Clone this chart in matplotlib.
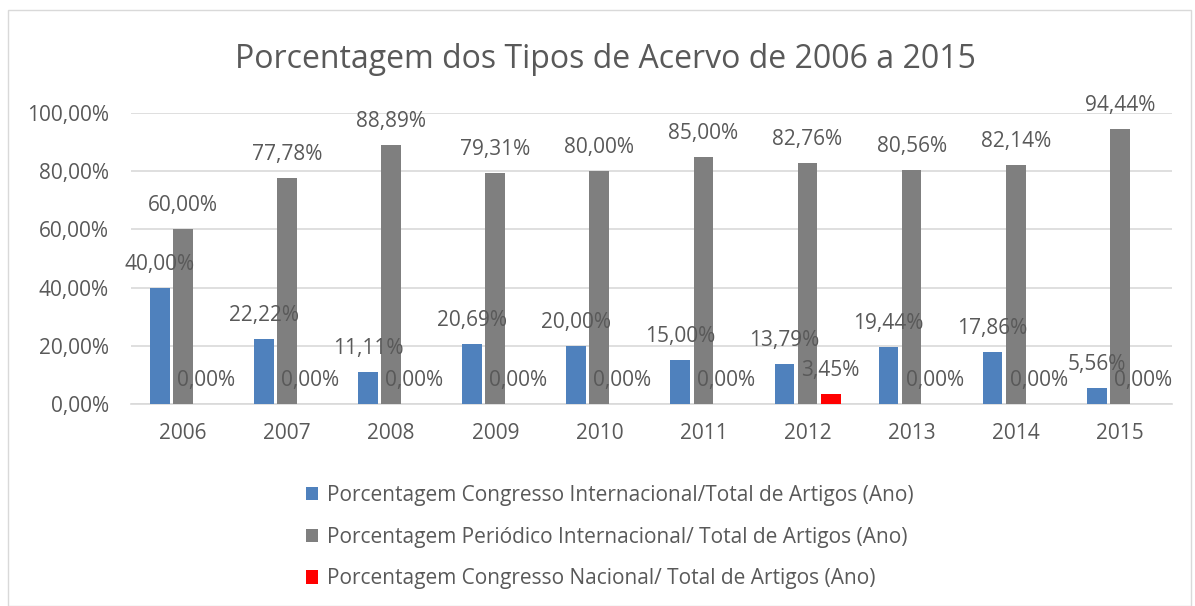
import numpy as np
import matplotlib
matplotlib.use('Agg')
import matplotlib.pyplot as plt
from matplotlib.patches import Rectangle

plt.rcParams['font.family'] = ['Open Sans', 'DejaVu Sans']

# dados
anos = ['2006', '2007', '2008', '2009', '2010', '2011', '2012', '2013', '2014', '2015']
congresso_int = [40.00, 22.22, 11.11, 20.69, 20.00, 15.00, 13.79, 19.44, 17.86, 5.56]
periodico_int = [60.00, 77.78, 88.89, 79.31, 80.00, 85.00, 82.76, 80.56, 82.14, 94.44]
congresso_nac = [0.00, 0.00, 0.00, 0.00, 0.00, 0.00, 3.45, 0.00, 0.00, 0.00]
series = [
    ('Porcentagem Congresso Internacional/Total de Artigos (Ano)', congresso_int, '#4F81BD'),
    ('Porcentagem Periódico Internacional/ Total de Artigos (Ano)', periodico_int, '#7F7F7F'),
    ('Porcentagem Congresso Nacional/ Total de Artigos (Ano)', congresso_nac, '#FF0000'),
]
yticks = [0, 20, 40, 60, 80, 100]

txt = '#595959'
fig = plt.figure(figsize=(11.95, 6.06), dpi=100)
fig.patches.append(Rectangle((0.007, 0.0), 0.99, 0.983, transform=fig.transFigure,
                             fill=False, edgecolor='#D9D9D9', linewidth=1))
ax = fig.add_axes([0.1096, 0.3333, 0.871, 0.480])

x = np.arange(len(anos))
largura = 0.19
offsets = [-0.222, 0.0, 0.222]

handles = []
for (nome, vals, cor), off in zip(series, offsets):
    b = ax.bar(x + off, vals, width=largura, color=cor, label=nome, zorder=3)
    handles.append(b)
    for xi, v in zip(x + off, vals):
        ax.annotate(f'{v:.2f}%'.replace('.', ','), (xi, v), xytext=(0, 17),
                    textcoords='offset points', ha='center', va='center',
                    fontsize=15, color=txt, zorder=4, annotation_clip=False)

ax.set_xlim(-0.5, len(anos) - 0.5)
ax.set_ylim(0, 100)
ax.set_yticks(yticks)
ax.set_yticklabels([f'{t:.2f}%'.replace('.', ',') for t in yticks], fontsize=15, color=txt)
ax.set_xticks(x)
ax.set_xticklabels(anos, fontsize=15, color=txt)
ax.tick_params(axis='y', length=0, pad=16)
ax.tick_params(axis='x', length=0, pad=14)
ax.grid(axis='y', color='#D9D9D9', linewidth=1.2, zorder=0)
for s in ['top', 'right', 'left']:
    ax.spines[s].set_visible(False)
ax.spines['bottom'].set_color('#D9D9D9')
ax.spines['bottom'].set_linewidth(1.2)

fig.text(0.507, 1 - 60 / 606, 'Porcentagem dos Tipos de Acervo de 2006 a 2015',
         ha='center', va='center', fontsize=23, color=txt)

fig.legend(handles=handles, loc='upper center', bbox_to_anchor=(0.51, 1 - 466 / 606),
           frameon=False, fontsize=15, handlelength=0.6, handleheight=0.6,
           handletextpad=0.4, labelspacing=1.0, labelcolor=txt)

fig.savefig('out.png', dpi=100)
